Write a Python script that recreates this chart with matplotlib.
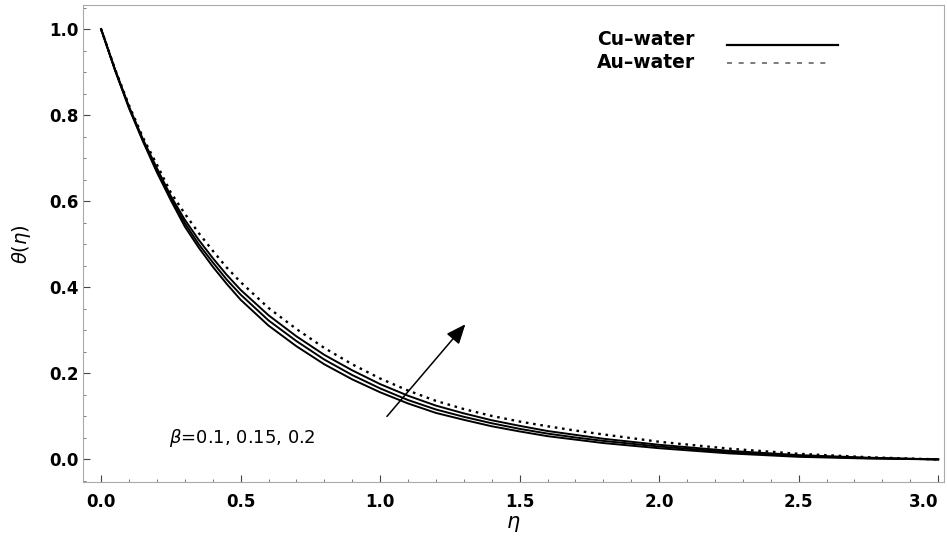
import numpy as np
import matplotlib
matplotlib.use('Agg')
import matplotlib.pyplot as plt

# eta grid and theta values
eta = [0.0, 0.05, 0.1, 0.15, 0.2, 0.25, 0.3, 0.35, 0.4, 0.45, 0.5, 0.6, 0.7, 0.8, 0.9, 1.0,
       1.1, 1.2, 1.3, 1.4, 1.5, 1.6, 1.7, 1.8, 2.0, 2.25, 2.5, 2.75, 3.0]
cu_beta_01 = [1.0, 0.904, 0.816, 0.739, 0.667, 0.602, 0.541, 0.492, 0.448, 0.408, 0.371,
              0.311, 0.263, 0.221, 0.186, 0.156, 0.130, 0.108, 0.092, 0.077, 0.065,
              0.054, 0.046, 0.038, 0.026, 0.014, 0.006, 0.002, 0.0]
cu_beta_015 = [1.0, 0.905, 0.818, 0.741, 0.672, 0.607, 0.549, 0.500, 0.458, 0.418, 0.383,
               0.323, 0.275, 0.232, 0.196, 0.165, 0.138, 0.116, 0.099, 0.084, 0.071,
               0.060, 0.051, 0.043, 0.030, 0.017, 0.008, 0.003, 0.0]
cu_beta_02 = [1.0, 0.906, 0.820, 0.744, 0.677, 0.612, 0.557, 0.510, 0.468, 0.429, 0.394,
              0.335, 0.286, 0.243, 0.207, 0.175, 0.148, 0.125, 0.107, 0.091, 0.078,
              0.066, 0.057, 0.048, 0.034, 0.020, 0.010, 0.004, 0.0]
au_water = [1.0, 0.907, 0.823, 0.748, 0.685, 0.620, 0.571, 0.526, 0.485, 0.446, 0.412,
            0.352, 0.303, 0.259, 0.221, 0.188, 0.160, 0.136, 0.117, 0.101, 0.088,
            0.077, 0.067, 0.058, 0.041, 0.025, 0.013, 0.005, 0.0]

xticks = [0.0, 0.5, 1.0, 1.5, 2.0, 2.5, 3.0]
yticks = [0.0, 0.2, 0.4, 0.6, 0.8, 1.0]

plt.rcParams['font.family'] = ['DejaVu Sans']

fig = plt.figure(figsize=(9.47, 5.53), dpi=100)
ax = fig.add_axes([0.0876, 0.128, 0.909, 0.863])

for y in (cu_beta_01, cu_beta_015, cu_beta_02):
    ax.plot(eta, y, color='black', lw=1.4)
ax.plot(eta, au_water, color='black', lw=1.7, linestyle=(0, (1.1, 2.0)))

ax.set_xlim(-0.065, 3.02)
ax.set_ylim(-0.053, 1.056)
ax.set_xticks(xticks)
ax.set_yticks(yticks)
ax.set_xticklabels([f'{t:.1f}' for t in xticks], fontweight='bold', fontsize=12)
ax.set_yticklabels([f'{t:.1f}' for t in yticks], fontweight='bold', fontsize=12)
ax.get_xticklabels()[-1].set_horizontalalignment('right')
ax.get_xticklabels()[-1].set_x(3.0)
ax.minorticks_on()
ax.tick_params(which='major', direction='in', length=5, width=0.8, pad=3,
               top=False, right=False, color='#444444')
ax.tick_params(axis='x', which='major', pad=8)
ax.tick_params(which='minor', direction='in', length=2.5, width=0.6,
               top=False, right=False, color='#666666')
for s in ax.spines.values():
    s.set_color('#aaaaaa')
    s.set_linewidth(0.8)

ax.set_xlabel(r'$\eta$', fontsize=15, labelpad=2)
ax.set_ylabel(r'$\theta(\eta)$', fontsize=14, labelpad=12)

# arrow showing increasing beta
ax.annotate('', xy=(1.312, 0.319), xytext=(1.018, 0.095),
            arrowprops=dict(arrowstyle='-|>,head_length=1.2,head_width=0.5',
                            color='black', lw=1.1))
ax.text(0.245, 0.05, r'$\beta$=0.1, 0.15, 0.2', fontsize=13, va='center', ha='left')

# legend drawn as text + line samples like the original
ax.text(0.597, 0.927, 'Cu\u2013water', transform=ax.transAxes, fontsize=13.5,
        fontweight='bold', ha='left', va='center')
ax.text(0.597, 0.880, 'Au\u2013water', transform=ax.transAxes, fontsize=13.5,
        fontweight='bold', ha='left', va='center')
ax.plot([0.748, 0.877], [0.916, 0.916], transform=ax.transAxes, color='black', lw=1.6)
ax.plot([0.748, 0.868], [0.878, 0.878], transform=ax.transAxes, color='#666666', lw=1.2,
        linestyle=(0, (3, 4)))

fig.savefig('out.png', dpi=100)
